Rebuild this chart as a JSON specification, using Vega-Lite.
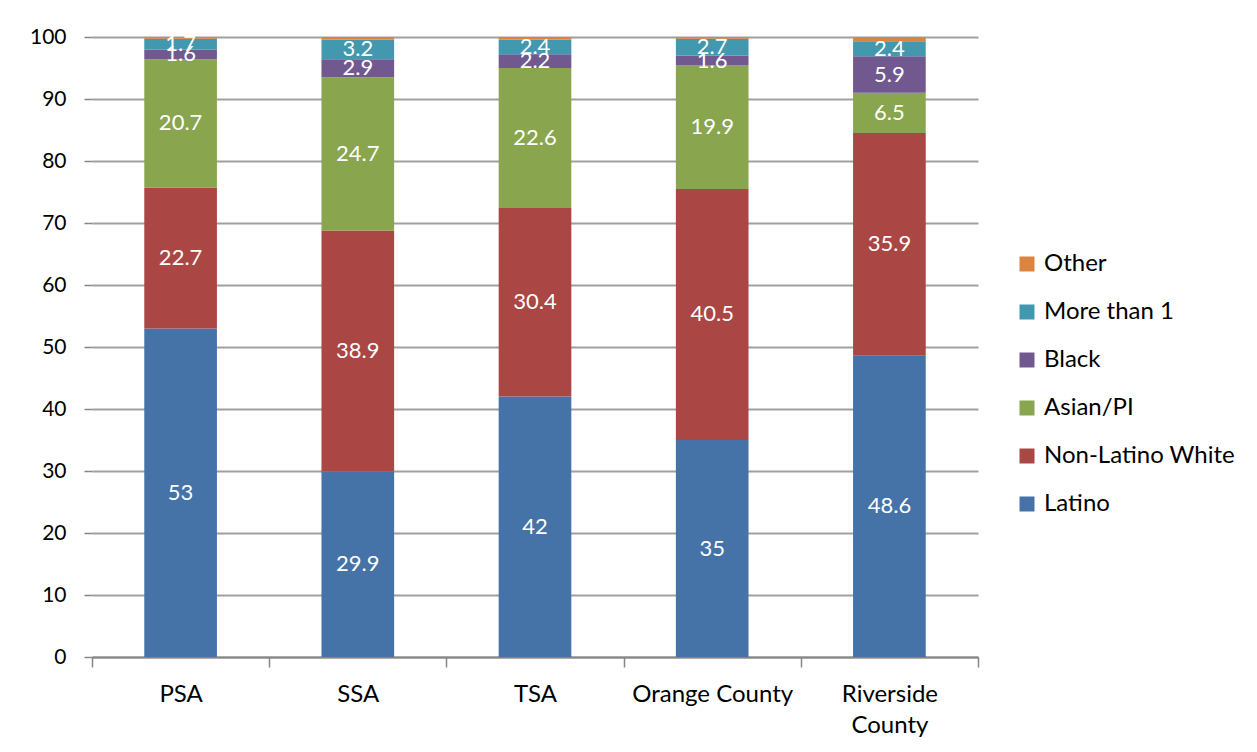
{
  "$schema": "https://vega.github.io/schema/vega-lite/v6.json",
  "width": 886,
  "height": 620,
  "autosize": {"type": "none"},
  "padding": {"left": 92, "top": 37, "right": 279, "bottom": 95},
  "background": "white",
  "config": {
    "font": "Lato",
    "view": {"stroke": null}
  },
  "data": {
    "values": [
      {"area": "PSA", "group": "Latino", "k": 1, "value": 53},
      {"area": "PSA", "group": "Non-Latino White", "k": 2, "value": 22.7},
      {"area": "PSA", "group": "Asian/PI", "k": 3, "value": 20.7},
      {"area": "PSA", "group": "Black", "k": 4, "value": 1.6},
      {"area": "PSA", "group": "More than 1", "k": 5, "value": 1.7},
      {"area": "PSA", "group": "Other", "k": 6, "value": 0.3},
      {"area": "SSA", "group": "Latino", "k": 1, "value": 29.9},
      {"area": "SSA", "group": "Non-Latino White", "k": 2, "value": 38.9},
      {"area": "SSA", "group": "Asian/PI", "k": 3, "value": 24.7},
      {"area": "SSA", "group": "Black", "k": 4, "value": 2.9},
      {"area": "SSA", "group": "More than 1", "k": 5, "value": 3.2},
      {"area": "SSA", "group": "Other", "k": 6, "value": 0.4},
      {"area": "TSA", "group": "Latino", "k": 1, "value": 42},
      {"area": "TSA", "group": "Non-Latino White", "k": 2, "value": 30.4},
      {"area": "TSA", "group": "Asian/PI", "k": 3, "value": 22.6},
      {"area": "TSA", "group": "Black", "k": 4, "value": 2.2},
      {"area": "TSA", "group": "More than 1", "k": 5, "value": 2.4},
      {"area": "TSA", "group": "Other", "k": 6, "value": 0.4},
      {"area": "Orange County", "group": "Latino", "k": 1, "value": 35},
      {"area": "Orange County", "group": "Non-Latino White", "k": 2, "value": 40.5},
      {"area": "Orange County", "group": "Asian/PI", "k": 3, "value": 19.9},
      {"area": "Orange County", "group": "Black", "k": 4, "value": 1.6},
      {"area": "Orange County", "group": "More than 1", "k": 5, "value": 2.7},
      {"area": "Orange County", "group": "Other", "k": 6, "value": 0.3},
      {"area": "Riverside County", "group": "Latino", "k": 1, "value": 48.6},
      {"area": "Riverside County", "group": "Non-Latino White", "k": 2, "value": 35.9},
      {"area": "Riverside County", "group": "Asian/PI", "k": 3, "value": 6.5},
      {"area": "Riverside County", "group": "Black", "k": 4, "value": 5.9},
      {"area": "Riverside County", "group": "More than 1", "k": 5, "value": 2.4},
      {"area": "Riverside County", "group": "Other", "k": 6, "value": 0.7}
    ]
  },
  "encoding": {
    "x": {
      "field": "area",
      "type": "nominal",
      "sort": null,
      "scale": {"paddingInner": 0, "paddingOuter": 0},
      "axis": {
        "title": null,
        "labelAngle": 0,
        "labelFontSize": 24,
        "labelColor": "black",
        "labelPadding": 15,
        "labelLineHeight": 31,
        "labelExpr": "datum.label == 'Riverside County' ? ['Riverside', 'County'] : datum.label",
        "tickBand": "extent",
        "tickSize": 10,
        "tickColor": "#868686",
        "tickWidth": 1.5,
        "domainColor": "#868686",
        "domainWidth": 2
      }
    }
  },
  "layer": [
    {
      "mark": {"type": "bar", "width": {"band": 0.41}},
      "encoding": {
        "y": {
          "field": "value",
          "type": "quantitative",
          "stack": "zero",
          "scale": {"domain": [0, 100], "nice": false},
          "axis": {
            "title": null,
            "values": [0, 10, 20, 30, 40, 50, 60, 70, 80, 90, 100],
            "labelFontSize": 21,
            "labelColor": "black",
            "labelPadding": 18,
            "tickSize": 8,
            "tickColor": "#868686",
            "tickWidth": 1.5,
            "domain": false,
            "grid": true,
            "gridColor": "#a0a0a0",
            "gridWidth": 2
          }
        },
        "order": {"field": "k", "type": "quantitative"},
        "color": {
          "field": "group",
          "type": "nominal",
          "scale": {
            "domain": ["Other", "More than 1", "Black", "Asian/PI", "Non-Latino White", "Latino"],
            "range": ["#DB843D", "#4198AF", "#71588F", "#89A54E", "#AA4643", "#4572A7"]
          },
          "legend": {
            "title": null,
            "orient": "none",
            "legendX": 923,
            "legendY": 215,
            "symbolType": "square",
            "symbolSize": 225,
            "symbolStrokeWidth": 0,
            "labelFontSize": 24,
            "labelLimit": 320,
            "labelColor": "black",
            "labelOffset": 5,
            "rowPadding": 24
          }
        }
      }
    },
    {
      "transform": [{"filter": "datum.group != 'Other'"}],
      "mark": {"type": "text", "color": "white", "fontSize": 22, "baseline": "middle"},
      "encoding": {
        "y": {"field": "value", "type": "quantitative", "stack": "zero", "bandPosition": 0.5},
        "order": {"field": "k", "type": "quantitative"},
        "text": {"field": "value", "type": "quantitative"}
      }
    }
  ]
}
